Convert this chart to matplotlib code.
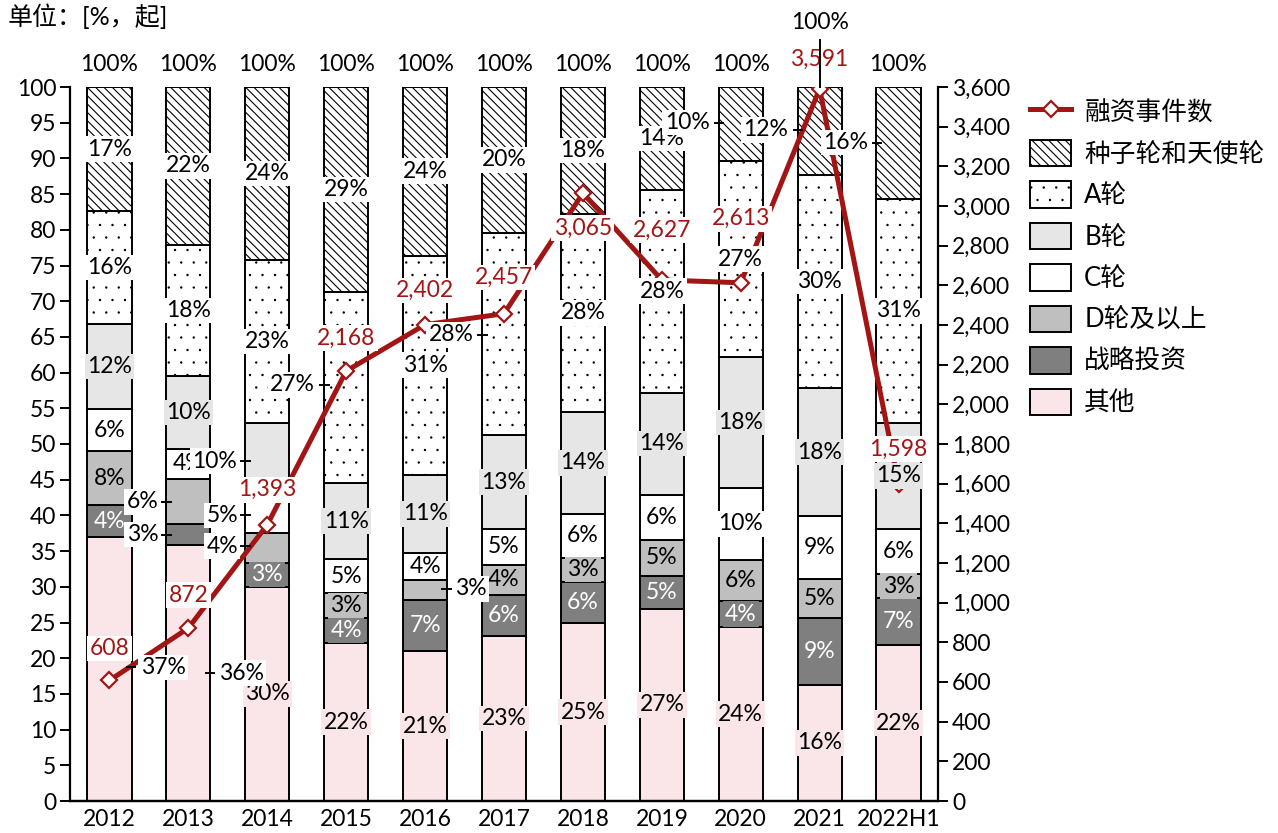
import matplotlib.hatch as mhatch
import matplotlib.pyplot as plt
from matplotlib.lines import Line2D
from matplotlib.patches import Patch
from matplotlib.ticker import FuncFormatter, MultipleLocator
import numpy as np

plt.rcParams["font.family"] = ["Lato", "Noto Sans CJK SC", "DejaVu Sans"]
plt.rcParams["hatch.linewidth"] = 0.8


class FineDots(mhatch.Circles):
    """Smaller, slightly denser filled dots for the '.' hatch."""
    size = 0.05
    filled = True

    def __init__(self, hatch, density):
        rows = int(round(hatch.count(".") * density * 4 / 3))
        self.num_rows = rows + rows % 2
        super().__init__(hatch, density)


mhatch._hatch_types = [FineDots if t is mhatch.SmallFilledCircles else t
                       for t in mhatch._hatch_types]

years = ["2012", "2013", "2014", "2015", "2016", "2017", "2018", "2019", "2020", "2021", "2022H1"]

# share of deals by round, % (bottom to top of each bar)
other = [37.0, 35.8, 30.0, 22.1, 21.0, 23.1, 24.9, 26.9, 24.3, 16.3, 21.8]
strategic = [4.4, 3.0, 3.4, 3.6, 7.2, 5.8, 5.8, 4.6, 3.7, 9.4, 6.6]
round_d = [7.6, 6.3, 4.2, 3.4, 2.8, 4.2, 3.4, 5.1, 5.8, 5.4, 3.4]
round_c = [5.9, 4.2, 5.0, 4.8, 3.7, 5.0, 6.1, 6.3, 10.0, 8.8, 6.3]
round_b = [11.9, 10.2, 10.3, 10.6, 11.0, 13.1, 14.3, 14.3, 18.4, 17.9, 14.9]
round_a = [15.8, 18.4, 22.9, 26.8, 30.7, 28.4, 27.7, 28.4, 27.4, 29.9, 31.3]
seed_angel = [17.4, 22.1, 24.2, 28.7, 23.6, 20.4, 17.8, 14.4, 10.4, 12.3, 15.7]

# number of financing events
deals = [608, 872, 1393, 2168, 2402, 2457, 3065, 2627, 2613, 3591, 1598]

RED = "#A31515"
PINK = "#FAE6E8"
# name, values, fill, hatch, label colour
series = [
    ("其他", other, PINK, None, "black"),
    ("战略投资", strategic, "#7F7F7F", None, "white"),
    ("D轮及以上", round_d, "#BFBFBF", None, "black"),
    ("C轮", round_c, "white", None, "black"),
    ("B轮", round_b, "#E6E6E6", None, "black"),
    ("A轮", round_a, "white", ".", "black"),
    ("种子轮和天使轮", seed_angel, "white", "\\\\\\\\", "black"),
]

# labels that sit beside the bar: (series, year index) -> (x offset, y, side)
moved = {
    ("其他", 0): (0.68, 18.7, 1),
    ("其他", 1): (0.67, 17.9, 1),
    ("D轮及以上", 1): (-0.58, 41.9, -1),
    ("战略投资", 1): (-0.58, 37.3, -1),
    ("B轮", 2): (-0.67, 47.6, -1),
    ("C轮", 2): (-0.57, 40.0, -1),
    ("D轮及以上", 2): (-0.57, 35.7, -1),
    ("A轮", 3): (-0.68, 58.3, -1),
    ("D轮及以上", 4): (0.58, 29.7, 1),
    ("A轮", 5): (-0.67, 65.3, -1),
    ("种子轮和天使轮", 8): (-0.68, 95.0, -1),
    ("种子轮和天使轮", 9): (-0.68, 94.0, -1),
    ("种子轮和天使轮", 10): (-0.67, 92.2, -1),
}
# vertical pixel offset of each event-count label from its marker
deal_offsets = [32, 33, 35, 33, 34, 36, -35, 50, 64, 29, 35]

fig = plt.figure(figsize=(12.78, 8.33), dpi=100)
ax = fig.add_axes([70 / 1278, 32 / 833, 868 / 1278, 714 / 833])
ax2 = ax.twinx()

x = np.arange(len(years))
width = 0.56
bottom = np.zeros(len(years))
label_fs = 16.5

for name, vals, fc, hatch, tc in series:
    vals = np.array(vals)
    ax.bar(x, vals, width, bottom=bottom, color=fc, edgecolor="black",
           linewidth=1.4, hatch=hatch, zorder=2)
    box_fc = "white" if hatch else fc
    for i, v in enumerate(vals):
        text = f"{v:.0f}%"
        if (name, i) in moved:
            dx, y, side = moved[(name, i)]
            ax2.plot([i + side * 0.22, i + side * 0.33], [y, y], color="black",
                     lw=1.4, transform=ax.transData, clip_on=False, zorder=6)
            ax2.text(i + dx, y, text, transform=ax.transData, ha="center", va="center",
                     fontsize=label_fs, color="black", zorder=8,
                     bbox=dict(boxstyle="square,pad=0.1", fc="white", ec="none"))
        else:
            ax2.text(i, bottom[i] + v / 2, text, transform=ax.transData, ha="center",
                     va="center", fontsize=label_fs, color=tc, zorder=7,
                     bbox=dict(boxstyle="square,pad=0.1", fc=box_fc, ec="none"))
    bottom += vals

# totals above the bars
for i, total in enumerate(bottom):
    y = 103.1
    if i == 9:
        y = 109.1
        ax2.plot([i, i], [100, 106.6], color="black", lw=1.4,
                 transform=ax.transData, clip_on=False, zorder=9)
    ax2.text(i, y, f"{total:.0f}%", transform=ax.transData, ha="center", va="center",
             fontsize=label_fs, clip_on=False)

ax2.plot(x, deals, color=RED, lw=3.6, marker="D", ms=8, mfc="white", mec=RED,
         mew=1.6, zorder=4)
for i, v in enumerate(deals):
    ax2.annotate(f"{v:,}", (i, v), xytext=(0, deal_offsets[i]), textcoords="offset pixels",
                 ha="center", va="center", fontsize=label_fs, color=RED, zorder=6,
                 bbox=dict(boxstyle="square,pad=0.1", fc="white", ec="none"))

ax.set_xlim(-0.5, 10.5)
ax.set_ylim(0, 100)
ax2.set_ylim(0, 3600)
ax.set_xticks(x)
ax.set_xticklabels(years)
ax.yaxis.set_major_locator(MultipleLocator(5))
ax2.yaxis.set_major_locator(MultipleLocator(200))
ax2.yaxis.set_major_formatter(FuncFormatter(lambda v, p: f"{v:,.0f}"))

ax.tick_params(axis="x", length=0, pad=6, labelsize=16.5)
ax.tick_params(axis="y", direction="out", length=7, width=1.4, pad=3, labelsize=16.5)
ax2.tick_params(axis="y", direction="out", length=7, width=1.4, pad=3, labelsize=16.5)

for a in (ax, ax2):
    a.spines["top"].set_visible(False)
    for s in ("left", "right", "bottom"):
        a.spines[s].set_linewidth(1.6)
ax.spines["right"].set_visible(False)
ax2.spines["left"].set_visible(False)

fig.text(8 / 1278, 1 - 16 / 833, "单位：[%，起]", va="center", ha="left", fontsize=18)

handles = [Line2D([0], [0], color=RED, lw=3.6, marker="D", ms=8, mfc="white", mec=RED, mew=1.6)]
labels = ["融资事件数"]
for name, vals, fc, hatch, tc in reversed(series):
    handles.append(Patch(facecolor=fc, edgecolor="black", linewidth=1.4, hatch=hatch))
    labels.append(name)
fig.legend(handles, labels, loc="upper left", bbox_to_anchor=(1020 / 1278, 1 - 88 / 833),
           frameon=False, fontsize=18.5, handlelength=1.6, handleheight=1.2,
           labelspacing=0.57, handletextpad=0.5, borderaxespad=0)

fig.savefig("out.png", dpi=100)
